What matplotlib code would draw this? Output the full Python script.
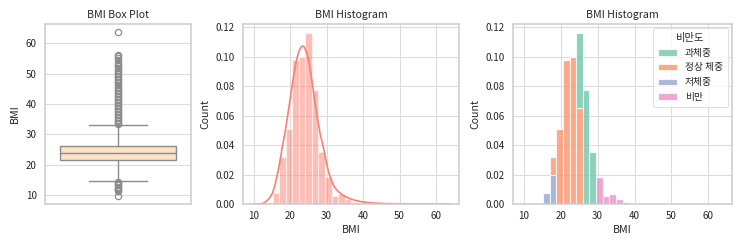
import numpy as np
import matplotlib
matplotlib.use("Agg")
import matplotlib.pyplot as plt

plt.rcParams['font.family'] = ['Noto Sans CJK KR', 'DejaVu Sans']
plt.rcParams['axes.unicode_minus'] = False

# ---- data ----
# box plot summary
box_q1 = 21.6
box_median = 24.05
box_q3 = 26.35
box_whislo = 14.7
box_whishi = 33.25
fliers_high = [33.3, 33.8, 34.3, 34.8, 35.3, 35.8, 36.3, 36.8, 37.3, 37.8, 38.3, 38.8,
               39.3, 39.8, 40.3, 40.8, 41.3, 41.8, 42.3, 42.8, 43.3, 43.8, 44.3, 44.8,
               45.3, 45.8, 46.3, 46.8, 47.3, 47.8, 48.3, 48.8, 49.3, 49.8, 50.3, 50.8,
               51.3, 51.8, 52.4, 53.0, 53.6, 54.4, 55.2, 55.8, 56.3, 63.7]
fliers_low = [14.4, 14.0, 13.6, 13.2, 12.8, 12.4, 12.0, 11.6, 11.3, 9.8]

# histogram (density) bins
bin_edges = [9.9, 11.69, 13.48, 15.27, 17.06, 18.85, 20.64, 22.43, 24.22, 26.01,
             27.8, 29.59, 31.38, 33.17, 34.96, 36.75, 38.54, 40.33, 42.12, 43.91,
             45.7, 47.49, 49.28, 51.07, 52.86, 54.65, 56.44, 58.23, 60.02, 61.81, 63.6]
hist_density = [0.00005, 0.0001, 0.0004, 0.0072, 0.0322, 0.0512, 0.0980, 0.0996, 0.1160,
                0.0777, 0.0355, 0.0183, 0.0054, 0.0066, 0.0034, 0.0016, 0.0006,
                0.0003, 0.0002, 0.0001, 0.00008, 0.00005, 0.00004, 0.00003, 0.00002,
                0.00002, 0.00001, 0.0, 0.0, 0.00001]

# KDE curve
kde_x = [9.9, 12.0, 12.8, 13.4, 14.3, 15.2, 15.9, 16.6, 17.3, 17.9, 18.6, 19.3, 20.05,
         20.8, 21.6, 22.1, 22.5, 23.0, 23.4, 23.8, 24.3, 24.8, 25.2, 25.7, 26.1, 26.5,
         26.9, 27.3, 27.6, 28.0, 28.3, 28.7, 29.1, 29.5, 29.9, 30.3, 30.7, 31.4, 32.1,
         32.7, 33.2, 34.4, 36.0, 37.6, 39.0, 40.8, 42.5, 44.0, 46.0, 48.0, 51.0, 55.0,
         59.0, 63.6]
kde_y = [0.0, 0.0001, 0.0006, 0.0016, 0.0038, 0.0073, 0.0130, 0.0208, 0.0297, 0.0389,
         0.0480, 0.0590, 0.0715, 0.0840, 0.0956, 0.1008, 0.1040, 0.1065, 0.1073, 0.1068,
         0.1045, 0.1005, 0.0960, 0.0890, 0.0820, 0.0750, 0.0680, 0.0620, 0.0570, 0.0515,
         0.0470, 0.0430, 0.0389, 0.0340, 0.0290, 0.0245, 0.0208, 0.0155, 0.0118, 0.0098,
         0.0085, 0.0061, 0.0040, 0.0027, 0.0018, 0.0011, 0.0007, 0.0005, 0.0003, 0.0002,
         0.0001, 0.00005, 0.00002, 0.0]

# stacked histogram by category (density share per bin)
categories = ['과체중', '정상 체중', '저체중', '비만']
cat_colors = ['#66c2a5', '#fc8d62', '#8da0cb', '#e78ac3']
dens_over = [0, 0, 0, 0, 0, 0, 0, 0, 0.051, 0.0777, 0.0355, 0, 0, 0, 0, 0, 0,
             0, 0, 0, 0, 0, 0, 0, 0, 0, 0, 0, 0, 0]
dens_normal = [0, 0, 0, 0, 0.0123, 0.0512, 0.0980, 0.0996, 0.065, 0, 0, 0, 0, 0, 0, 0, 0,
               0, 0, 0, 0, 0, 0, 0, 0, 0, 0, 0, 0, 0]
dens_under = [0.00005, 0.0001, 0.0004, 0.0072, 0.0199, 0, 0, 0, 0, 0, 0, 0, 0, 0, 0, 0, 0,
              0, 0, 0, 0, 0, 0, 0, 0, 0, 0, 0, 0, 0]
dens_obese = [0, 0, 0, 0, 0, 0, 0, 0, 0, 0, 0, 0.0183, 0.0054, 0.0066, 0.0034, 0.0016, 0.0006,
              0.0003, 0.0002, 0.0001, 0.00008, 0.00005, 0.00004, 0.00003, 0.00002,
              0.00002, 0.00001, 0.0, 0.0, 0.00001]

# ---- style ----
TXT = '#262626'
EDGE = '#cccccc'
GRID = '#dcdcdc'
TICK_FS = 7.0
LAB_FS = 7.6

fig = plt.figure(figsize=(7.43, 2.48), dpi=100)
W, H = 743, 248


def mkax(l, r, t=24, b=204):
    ax = fig.add_axes([l / W, 1 - b / H, (r - l) / W, (b - t) / H])
    ax.set_facecolor('white')
    for s in ax.spines.values():
        s.set_color(EDGE)
        s.set_linewidth(1.1)
    ax.grid(True, color=GRID, linewidth=0.8)
    ax.set_axisbelow(True)
    ax.tick_params(axis='y', length=0, labelsize=TICK_FS, colors=TXT, pad=6)
    ax.tick_params(axis='x', length=0, labelsize=TICK_FS, colors=TXT, pad=5)
    return ax


# --- box plot ---
ax1 = mkax(45, 190.5)
stats = [dict(med=box_median, q1=box_q1, q3=box_q3, whislo=box_whislo, whishi=box_whishi,
              fliers=np.array(fliers_high + fliers_low))]
ax1.bxp(stats, positions=[0], widths=0.8, patch_artist=True, showfliers=True,
        boxprops=dict(facecolor='#fae3c7', edgecolor='#8c8c8c', linewidth=1.0),
        medianprops=dict(color='#8c8c8c', linewidth=1.0),
        whiskerprops=dict(color='#8c8c8c', linewidth=1.0),
        capprops=dict(color='#8c8c8c', linewidth=1.0),
        capwidths=0.4,
        flierprops=dict(marker='o', markerfacecolor='none', markeredgecolor='#8c8c8c',
                        markersize=4.5, markeredgewidth=0.9))
ax1.set_xlim(-0.5, 0.5)
ax1.set_ylim(7.1, 66.4)
ax1.set_xticks([])
ax1.set_yticks([10, 20, 30, 40, 50, 60])
ax1.set_ylabel('BMI', fontsize=LAB_FS, color=TXT, labelpad=4)
ax1.set_title('BMI Box Plot', fontsize=LAB_FS, color=TXT, pad=4)

edges = np.array(bin_edges)
widths = np.diff(edges)

# --- histogram with KDE ---
ax2 = mkax(243.3, 459)
ax2.bar(edges[:-1], hist_density, width=widths, align='edge', color='#fa8072', alpha=0.5,
        edgecolor='white', linewidth=0.8)
ax2.plot(kde_x, kde_y, color='#fa8072', linewidth=1.2, solid_joinstyle='round')
ax2.set_xlim(7.2, 66.3)
ax2.set_ylim(0, 0.1222)
ax2.set_xticks([10, 20, 30, 40, 50, 60])
ax2.set_yticks([0.0, 0.02, 0.04, 0.06, 0.08, 0.10, 0.12])
ax2.set_yticklabels(['0.00', '0.02', '0.04', '0.06', '0.08', '0.10', '0.12'])
ax2.set_xlabel('BMI', fontsize=LAB_FS, color=TXT, labelpad=3)
ax2.set_ylabel('Count', fontsize=LAB_FS, color=TXT, labelpad=4)
ax2.set_title('BMI Histogram', fontsize=LAB_FS, color=TXT, pad=4)

# --- stacked histogram by category ---
ax3 = mkax(513.3, 731.7)
layers = {'비만': dens_obese, '저체중': dens_under, '정상 체중': dens_normal, '과체중': dens_over}
color_of = dict(zip(categories, cat_colors))
bottom = np.zeros(len(hist_density))
handles = {}
for name in ['비만', '저체중', '정상 체중', '과체중']:
    vals = np.array(layers[name])
    h = ax3.bar(edges[:-1], vals, width=widths, bottom=bottom, align='edge',
                color=color_of[name], alpha=0.75, edgecolor='white', linewidth=0.8,
                label=name)
    handles[name] = h
    bottom = bottom + vals
ax3.set_xlim(7.2, 66.3)
ax3.set_ylim(0, 0.1222)
ax3.set_xticks([10, 20, 30, 40, 50, 60])
ax3.set_yticks([0.0, 0.02, 0.04, 0.06, 0.08, 0.10, 0.12])
ax3.set_yticklabels(['0.00', '0.02', '0.04', '0.06', '0.08', '0.10', '0.12'])
ax3.set_xlabel('BMI', fontsize=LAB_FS, color=TXT, labelpad=3)
ax3.set_ylabel('Count', fontsize=LAB_FS, color=TXT, labelpad=4)
ax3.set_title('BMI Histogram', fontsize=LAB_FS, color=TXT, pad=4)
leg = ax3.legend([handles[c] for c in categories], categories, title='비만도',
                 loc='upper right', fontsize=7.0, title_fontsize=7.4, frameon=True,
                 handlelength=2.0, handleheight=0.7, labelspacing=0.5,
                 borderpad=0.5, handletextpad=0.8, borderaxespad=0.4)
leg.get_frame().set_edgecolor('#d9d9d9')
leg.get_frame().set_linewidth(0.8)
for t in leg.get_texts():
    t.set_color(TXT)
leg.get_title().set_color(TXT)

fig.savefig('out.png', dpi=100)
